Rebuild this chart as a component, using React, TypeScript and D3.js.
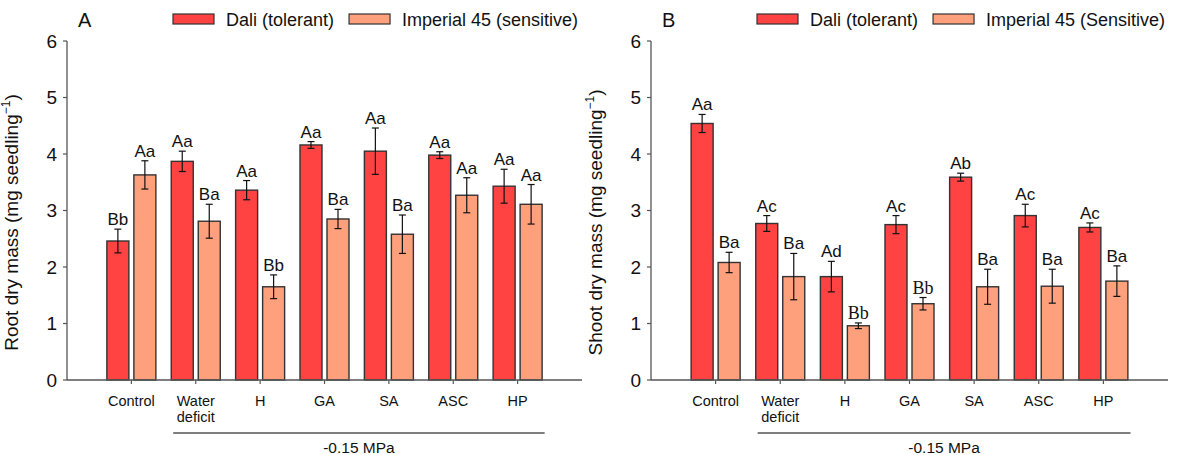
import React, { useEffect, useRef } from 'react'
import * as d3 from 'd3'

// treatments along the x axis
const categories = ['Control', 'Water deficit', 'H', 'GA', 'SA', 'ASC', 'HP']

// panel A: root dry mass
const rootDali = [2.46, 3.87, 3.36, 4.16, 4.05, 3.98, 3.43]
const rootDaliErr = [0.21, 0.18, 0.17, 0.06, 0.41, 0.06, 0.30]
const rootDaliLetters = ['Bb', 'Aa', 'Aa', 'Aa', 'Aa', 'Aa', 'Aa']
const rootImp = [3.63, 2.81, 1.65, 2.85, 2.58, 3.27, 3.11]
const rootImpErr = [0.25, 0.30, 0.21, 0.17, 0.34, 0.31, 0.35]
const rootImpLetters = ['Aa', 'Ba', 'Bb', 'Ba', 'Ba', 'Aa', 'Aa']

// panel B: shoot dry mass
const shootDali = [4.54, 2.77, 1.83, 2.75, 3.59, 2.91, 2.70]
const shootDaliErr = [0.16, 0.14, 0.27, 0.16, 0.07, 0.20, 0.08]
const shootDaliLetters = ['Aa', 'Ac', 'Ad', 'Ac', 'Ab', 'Ac', 'Ac']
const shootImp = [2.08, 1.83, 0.96, 1.35, 1.65, 1.66, 1.75]
const shootImpErr = [0.18, 0.41, 0.05, 0.11, 0.31, 0.30, 0.27]
const shootImpLetters = ['Ba', 'Ba', 'Bb', 'Bb', 'Ba', 'Ba', 'Ba']

const yTicks = [0, 1, 2, 3, 4, 5, 6]
const groupLabel = '-0.15 MPa'

const RED = '#ff4242'
const SALMON = '#ffa07c'
const FONT = 'Arial, "Liberation Sans", sans-serif'

interface PanelProps {
  letter: string
  x0: number
  x1: number
  title: string
  dali: number[]
  daliErr: number[]
  daliLetters: string[]
  imp: number[]
  impErr: number[]
  impLetters: string[]
  legendNames: string[]
  serifIdx?: number[]
}

function drawPanel (g: d3.Selection<SVGGElement, unknown, null, undefined>, p: PanelProps) {
  const top = 41
  const bottom = 380
  const x = d3.scaleLinear().domain([0, 8]).range([p.x0, p.x1])
  const y = d3.scaleLinear().domain([0, 6]).range([bottom, top])
  const barW = 22
  const half = 2.5

  // y axis
  g.append('line')
    .attr('x1', p.x0).attr('x2', p.x0)
    .attr('y1', y(6)).attr('y2', y(0))
    .attr('stroke', '#555').attr('stroke-width', 1.3)
  yTicks.forEach(t => {
    g.append('line')
      .attr('x1', p.x0 - 4).attr('x2', p.x0)
      .attr('y1', y(t)).attr('y2', y(t))
      .attr('stroke', '#555').attr('stroke-width', 1.2)
    g.append('text')
      .attr('x', p.x0 - 10).attr('y', y(t))
      .attr('text-anchor', 'end')
      .attr('dominant-baseline', 'central')
      .attr('font-size', 19)
      .text(t)
  })

  // y title
  const title = g.append('text')
    .attr('transform', `translate(${p.x0 - 49},${(top + bottom) / 2 + 12}) rotate(-90)`)
    .attr('text-anchor', 'middle')
    .attr('font-size', 19)
  title.append('tspan').text(p.title + ' (mg seedling')
  title.append('tspan').attr('font-size', 12).attr('dy', -8).text('\u22121')
  title.append('tspan').attr('dy', 8).text(')')

  // bars
  categories.forEach((c, i) => {
    const cx = x(i + 1)
    const series = [
      { v: p.dali[i], e: p.daliErr[i], l: p.daliLetters[i], color: RED, bx: cx - half - barW, serif: false },
      { v: p.imp[i], e: p.impErr[i], l: p.impLetters[i], color: SALMON, bx: cx + half, serif: (p.serifIdx || []).includes(i) }
    ]
    series.forEach(s => {
      g.append('rect')
        .attr('x', s.bx).attr('y', y(s.v))
        .attr('width', barW).attr('height', y(0) - y(s.v))
        .attr('fill', s.color)
        .attr('stroke', '#333').attr('stroke-width', 1.4)
      const mx = s.bx + barW / 2
      g.append('line')
        .attr('x1', mx).attr('x2', mx)
        .attr('y1', y(s.v + s.e)).attr('y2', y(s.v - s.e))
        .attr('stroke', '#111').attr('stroke-width', 1.2)
      ;[s.v + s.e, s.v - s.e].forEach(v => {
        g.append('line')
          .attr('x1', mx - 3.5).attr('x2', mx + 3.5)
          .attr('y1', y(v)).attr('y2', y(v))
          .attr('stroke', '#111').attr('stroke-width', 1.2)
      })
      g.append('text')
        .attr('x', mx).attr('y', y(s.v + s.e) - 4)
        .attr('text-anchor', 'middle')
        .attr('font-size', s.serif ? 18 : 17)
        .attr('font-family', s.serif ? '"Liberation Serif", "Times New Roman", serif' : FONT)
        .text(s.l)
    })

    // category tick and label
    g.append('line')
      .attr('x1', cx).attr('x2', cx)
      .attr('y1', bottom).attr('y2', bottom + 4)
      .attr('stroke', '#555').attr('stroke-width', 1.2)
    const words = c === 'Water deficit' ? ['Water', 'deficit'] : [c]
    words.forEach((w, k) => {
      g.append('text')
        .attr('x', cx).attr('y', 406 + k * 16)
        .attr('text-anchor', 'middle')
        .attr('font-size', 14.5)
        .text(w)
    })
  })

  // x axis
  g.append('line')
    .attr('x1', p.x0).attr('x2', p.x1)
    .attr('y1', bottom).attr('y2', bottom)
    .attr('stroke', '#555').attr('stroke-width', 1.5)

  // treatment group line
  g.append('line')
    .attr('x1', x(1.65)).attr('x2', x(7.42))
    .attr('y1', 433).attr('y2', 433)
    .attr('stroke', '#555').attr('stroke-width', 1.3)
  g.append('text')
    .attr('x', (x(1.65) + x(7.42)) / 2).attr('y', 453)
    .attr('text-anchor', 'middle')
    .attr('font-size', 15.5)
    .text(groupLabel)

  // panel letter
  g.append('text')
    .attr('x', p.x0 + 11).attr('y', 27)
    .attr('font-size', 20)
    .text(p.letter)

  // legend
  let lx = p.x0 + 106
  p.legendNames.forEach((name, k) => {
    g.append('rect')
      .attr('x', lx).attr('y', 14)
      .attr('width', 41).attr('height', 10)
      .attr('fill', k === 0 ? RED : SALMON)
      .attr('stroke', '#333').attr('stroke-width', 1.2)
    const t = g.append('text')
      .attr('x', lx + 53).attr('y', 26)
      .attr('font-size', 18)
      .text(name)
    const w = (t.node() as SVGTextElement).getComputedTextLength()
    lx = lx + 53 + w + 15
  })
}

const panels: PanelProps[] = [
  {
    letter: 'A', x0: 67, x1: 582, title: 'Root dry mass',
    dali: rootDali, daliErr: rootDaliErr, daliLetters: rootDaliLetters,
    imp: rootImp, impErr: rootImpErr, impLetters: rootImpLetters,
    legendNames: ['Dali (tolerant)', 'Imperial 45 (sensitive)']
  },
  {
    letter: 'B', x0: 651, x1: 1168, title: 'Shoot dry mass',
    dali: shootDali, daliErr: shootDaliErr, daliLetters: shootDaliLetters,
    imp: shootImp, impErr: shootImpErr, impLetters: shootImpLetters,
    legendNames: ['Dali (tolerant)', 'Imperial 45 (Sensitive)'],
    serifIdx: [2, 3]
  }
]

export default function App () {
  const ref = useRef<SVGSVGElement>(null)

  useEffect(() => {
    const svg = d3.select(ref.current)
    svg.selectAll('*').remove()
    svg.append('rect').attr('width', 1181).attr('height', 455).attr('fill', '#fff')
    panels.forEach(p => {
      const g = svg.append('g').attr('font-family', FONT).attr('fill', '#111')
      drawPanel(g, p)
    })
  }, [])

  return (
    <svg ref={ref} width={1181} height={455}
      style={{ position: 'absolute', left: 0, top: 0, display: 'block' }} />
  )
}
